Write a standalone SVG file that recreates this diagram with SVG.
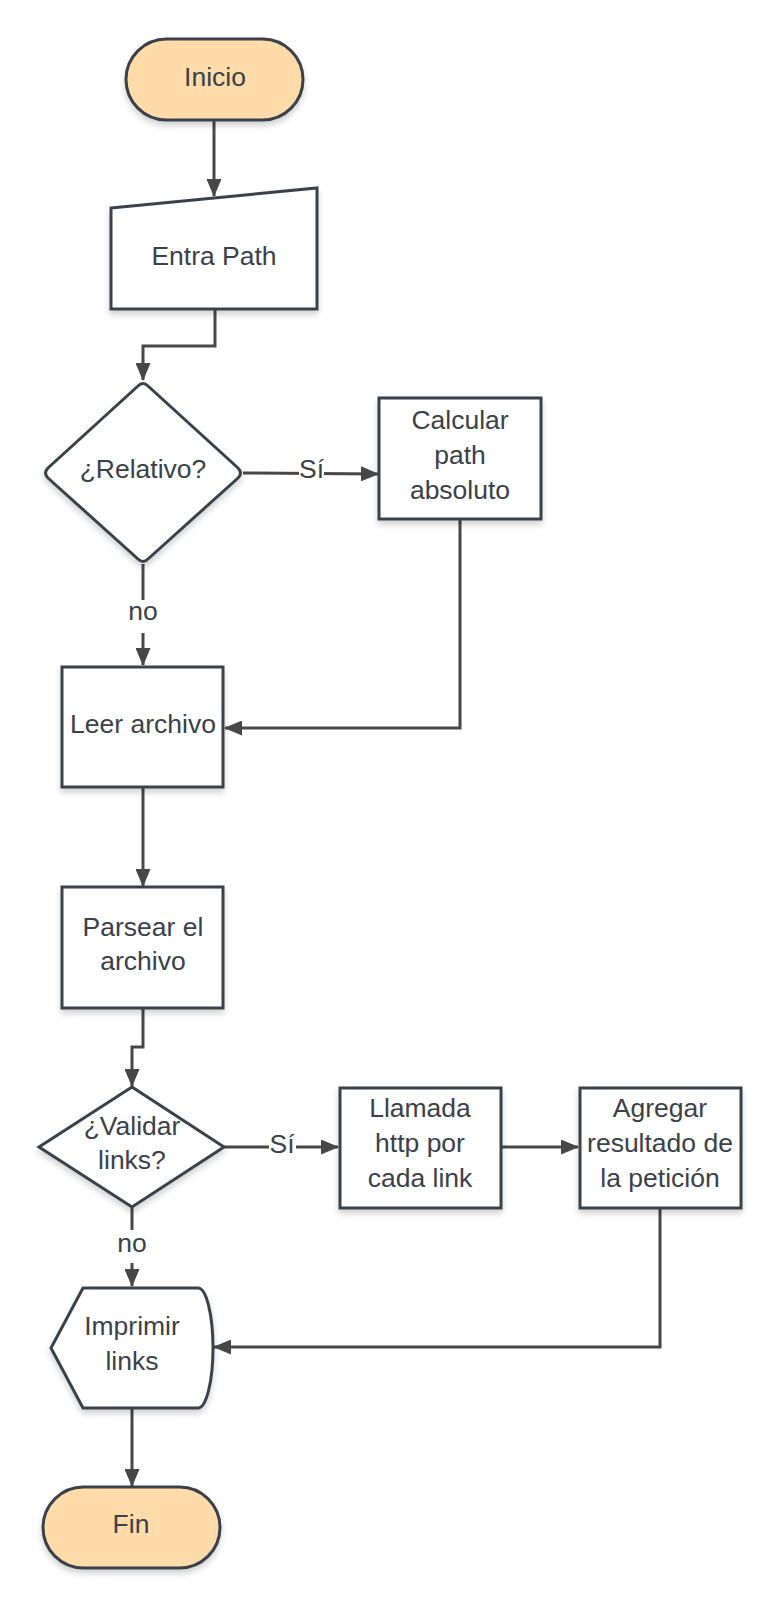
<svg xmlns="http://www.w3.org/2000/svg" width="780" height="1608" viewBox="0 0 780 1608">
<style>
.shape{fill:#ffffff;stroke:#3a414a;stroke-width:3;filter:url(#sh)}
.term{fill:#ffdba9;stroke:#3a414a;stroke-width:3;filter:url(#sh)}
.t{font-family:"Liberation Sans",Arial,sans-serif;font-size:26.5px;fill:#3a414a;text-anchor:middle}
.c{fill:none;stroke:#474747;stroke-width:3}
.lbl{font-family:"Liberation Sans",Arial,sans-serif;font-size:26.5px;fill:#3a414a;text-anchor:middle}
</style>
<defs>
<filter id="sh" x="-20%" y="-20%" width="140%" height="150%">
<feDropShadow dx="0" dy="4" stdDeviation="3" flood-color="#000000" flood-opacity="0.18"/>
</filter>
<marker id="ah" markerUnits="userSpaceOnUse" markerWidth="18" markerHeight="15" refX="17" refY="7.5" orient="auto">
<path d="M0,0 L18,7.5 L0,15 Z" fill="#474747"/>
</marker>
</defs>
<rect width="780" height="1608" fill="#ffffff"/>

<g id="connectors">
<path class="c" d="M214,120 L214,196" marker-end="url(#ah)"/>
<path class="c" d="M215,309 L215,346 L143,346 L143,380" marker-end="url(#ah)"/>
<path class="c" d="M243,473 L378,474" marker-end="url(#ah)"/>
<path class="c" d="M143,564 L143,665" marker-end="url(#ah)"/>
<path class="c" d="M460,519 L460,728 L225,728" marker-end="url(#ah)"/>
<path class="c" d="M143,787 L143,886" marker-end="url(#ah)"/>
<path class="c" d="M143,1008 L143,1047 L132,1047 L132,1086" marker-end="url(#ah)"/>
<path class="c" d="M224,1147 L338,1147" marker-end="url(#ah)"/>
<path class="c" d="M501,1147 L578,1147" marker-end="url(#ah)"/>
<path class="c" d="M660,1208 L660,1347 L214,1347" marker-end="url(#ah)"/>
<path class="c" d="M132,1207 L132,1286" marker-end="url(#ah)"/>
<path class="c" d="M132,1408 L132,1486" marker-end="url(#ah)"/>
<rect x="299" y="458" width="25" height="28" fill="#ffffff"/>
<text class="lbl" x="311.5" y="478">Sí</text>
<rect x="126" y="600" width="34" height="33" fill="#ffffff"/>
<text class="lbl" x="143" y="620">no</text>
<rect x="269" y="1133" width="27" height="28" fill="#ffffff"/>
<text class="lbl" x="282" y="1153">Sí</text>
<rect x="115" y="1230" width="34" height="33" fill="#ffffff"/>
<text class="lbl" x="132" y="1252">no</text>
</g>

<g id="inicio">
<rect class="term" x="126" y="39" width="177" height="81" rx="40.5"/>
<text class="t" x="215" y="86">Inicio</text>
</g>

<g id="entra-path">
<path class="shape" d="M111,208 L317,188 L317,309 L111,309 Z"/>
<text class="t" x="214" y="265">Entra Path</text>
</g>

<g id="relativo">
<path class="shape" d="M138,386 Q143,381 148,386 L238,468 Q243,473 238,478 L148,559 Q143,564 138,559 L48,478 Q43,473 48,468 Z"/>
<text class="t" x="143" y="478">¿Relativo?</text>
</g>

<g id="calcular">
<rect class="shape" x="379" y="398" width="162" height="121"/>
<text class="t" x="460" y="429">Calcular</text>
<text class="t" x="460" y="464">path</text>
<text class="t" x="460" y="499">absoluto</text>
</g>

<g id="leer">
<rect class="shape" x="62" y="667" width="161" height="120"/>
<text class="t" x="143" y="733">Leer archivo</text>
</g>

<g id="parsear">
<rect class="shape" x="62" y="887" width="161" height="121"/>
<text class="t" x="143" y="936">Parsear el</text>
<text class="t" x="143" y="970">archivo</text>
</g>

<g id="validar">
<path class="shape" d="M132,1087 L224,1147 L132,1207 L39,1147 Z"/>
<text class="t" x="132" y="1135">¿Validar</text>
<text class="t" x="132" y="1169">links?</text>
</g>

<g id="llamada">
<rect class="shape" x="340" y="1088" width="161" height="120"/>
<text class="t" x="420" y="1117">Llamada</text>
<text class="t" x="420" y="1152">http por</text>
<text class="t" x="420" y="1187">cada link</text>
</g>

<g id="agregar">
<rect class="shape" x="580" y="1088" width="161" height="120"/>
<text class="t" x="660" y="1117">Agregar</text>
<text class="t" x="660" y="1152">resultado de</text>
<text class="t" x="660" y="1187">la petición</text>
</g>

<g id="imprimir">
<path class="shape" d="M83,1288 L198,1288 A15,60 0 0 1 198,1408 L83,1408 L51,1348 Z"/>
<text class="t" x="132" y="1335">Imprimir</text>
<text class="t" x="132" y="1370">links</text>
</g>

<g id="fin">
<rect class="term" x="43" y="1487" width="177" height="81" rx="40.5"/>
<text class="t" x="131" y="1533">Fin</text>
</g>
</svg>
